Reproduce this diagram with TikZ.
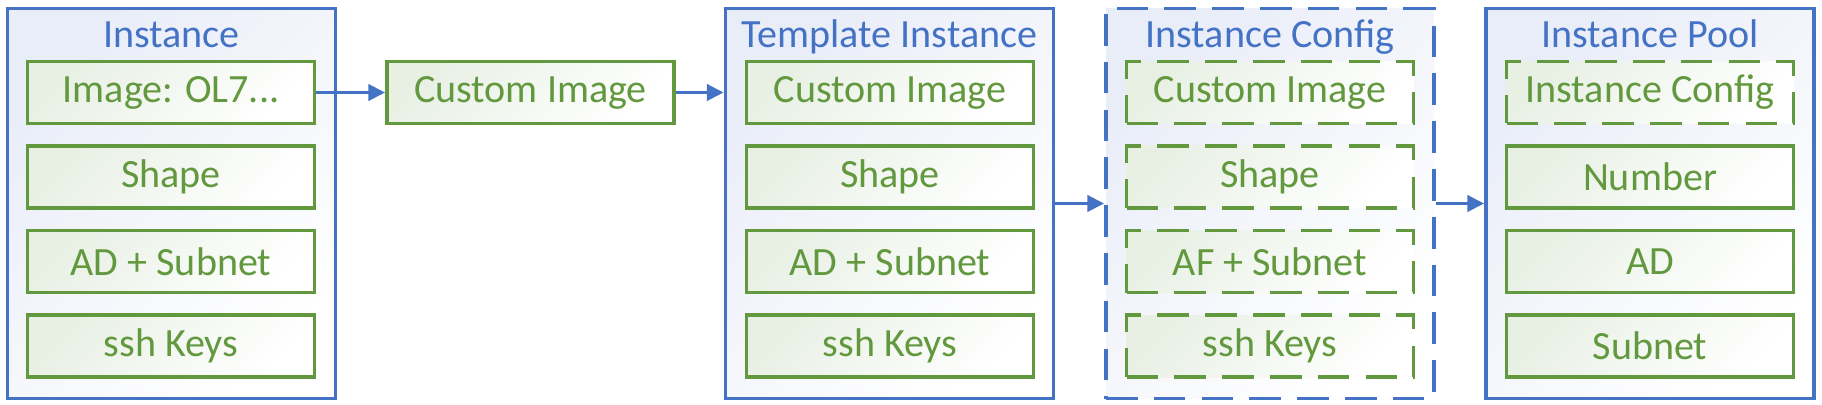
\documentclass[tikz,border=0pt]{standalone}
\usepackage{fontspec}
\setmainfont{Carlito}
\usetikzlibrary{arrows.meta}
\definecolor{boxblue}{RGB}{68,114,196}
\definecolor{itemgreen}{RGB}{98,153,62}
\definecolor{groupfill}{RGB}{233,237,248}
\definecolor{itemfill}{RGB}{232,240,228}

\begin{document}
\begin{tikzpicture}[
    groupbox/.style={draw=boxblue, line width=1.05pt, minimum width=3.28cm, minimum height=3.90cm,
        top color=groupfill, bottom color=white, shading angle=45},
    itembox/.style={draw=itemgreen, line width=1.05pt, minimum width=2.87cm, minimum height=0.62cm,
        top color=itemfill, bottom color=white, shading angle=45, text=itemgreen,
        font=\fontsize{11.4}{13}\selectfont},
    grouptitle/.style={text=boxblue, anchor=base, font=\fontsize{11.4}{13}\selectfont},
    dashbox/.style={dash pattern=on 9pt off 4.6pt},
    link/.style={draw=boxblue, line width=1.05pt, -{Triangle[length=4.8pt,width=4.6pt]}}
    ]
    \useasboundingbox (0,0) rectangle (18.22,4.04);
    \node[groupbox] (inst) at (1.715,2.005) {};
    \node[groupbox] (tmpl) at (8.895,2.005) {};
    \node[groupbox, dashbox] (cfg) at (12.70,2.005) {};
    \node[groupbox] (pool) at (16.50,2.005) {};
    \node[grouptitle] (instT) at (1.715,3.56) {Instance};
    \node[grouptitle] (tmplT) at (8.895,3.56) {Template Instance};
    \node[grouptitle] (cfgT) at (12.70,3.56) {Instance Config};
    \node[grouptitle] (poolT) at (16.50,3.56) {Instance Pool};
    \node[itembox] (instImg) at (1.71,3.115) {Image: OL7...};
    \node[itembox] (instShp) at (1.71,2.27) {Shape};
    \node[itembox] (instAD) at (1.71,1.425) {AD + Subnet};
    \node[itembox] (instKey) at (1.71,0.58) {ssh Keys};
    \node[itembox] (custImg) at (5.305,3.115) {Custom Image};
    \node[itembox] (tmplImg) at (8.90,3.115) {Custom Image};
    \node[itembox] (tmplShp) at (8.90,2.27) {Shape};
    \node[itembox] (tmplAD) at (8.90,1.425) {AD + Subnet};
    \node[itembox] (tmplKey) at (8.90,0.58) {ssh Keys};
    \node[itembox, dashbox] (cfgImg) at (12.70,3.115) {Custom Image};
    \node[itembox, dashbox] (cfgShp) at (12.70,2.27) {Shape};
    \node[itembox, dashbox] (cfgAF) at (12.70,1.425) {AF + Subnet};
    \node[itembox, dashbox] (cfgKey) at (12.70,0.58) {ssh Keys};
    \node[itembox, dashbox] (poolCfg) at (16.50,3.115) {Instance Config};
    \node[itembox] (poolNum) at (16.50,2.27) {Number};
    \node[itembox] (poolAD) at (16.50,1.425) {AD};
    \node[itembox] (poolNet) at (16.50,0.58) {Subnet};
    \draw[link] (instImg) -- (custImg);
    \draw[link] (custImg) -- (custImg -| tmpl.west);
    \draw[link] (tmpl) -- (cfg);
    \draw[link] (cfg) -- (pool);
    \end{tikzpicture}
\end{document}
